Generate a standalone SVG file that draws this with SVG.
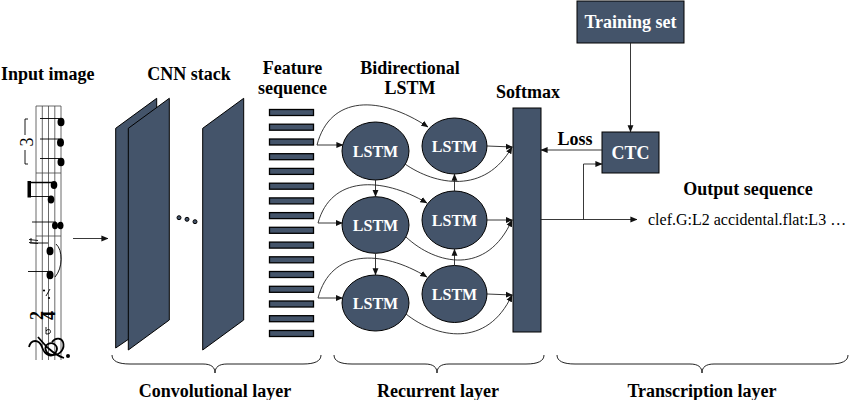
<svg xmlns="http://www.w3.org/2000/svg" width="850" height="400" viewBox="0 0 850 400">
<style>
.t{font-family:"Liberation Serif","Times New Roman",serif;font-weight:bold;font-size:18px;fill:#000}
.s16{font-size:16px}
.w{fill:#fff}
.reg{font-weight:normal}
.node{fill:#44546A;stroke:#000;stroke-width:1}
.bar{fill:#44546A;stroke:#000;stroke-width:1.3}
.conn{fill:none;stroke:#222;stroke-width:0.9}
.brace{fill:none;stroke:#222;stroke-width:1}
.ink{stroke:#000;fill:none}
</style>
<defs>
<marker id="ah" viewBox="0 0 10 10" refX="9.5" refY="5" markerWidth="7" markerHeight="7" markerUnits="userSpaceOnUse" orient="auto">
<path d="M0,0.8 L10,5 L0,9.2 z" fill="#111"/>
</marker>
</defs>
<rect width="850" height="400" fill="#fff"/>

<g id="input-image">
<text class="t" x="1" y="80">Input image</text>
<g stroke="#444" stroke-width="0.8">
<line x1="36" y1="106" x2="36" y2="360"/>
<line x1="42.3" y1="106" x2="42.3" y2="360"/>
<line x1="48.5" y1="106" x2="48.5" y2="360"/>
<line x1="54.8" y1="106" x2="54.8" y2="360"/>
<line x1="61" y1="106" x2="61" y2="360"/>
<line x1="36" y1="106" x2="61" y2="106"/>
<line x1="36" y1="173" x2="61" y2="173"/>
<line x1="36" y1="236" x2="61" y2="236"/>
</g>
<g class="ink" stroke-width="0.9">
<line x1="40" y1="118.5" x2="59" y2="118.5"/>
<line x1="40" y1="139" x2="59" y2="139"/>
<line x1="40" y1="158.5" x2="59" y2="158.5"/>
<path d="M28,119 L25,119 L25,135 M25,150 L25,164 L28,164"/>
<line x1="29" y1="182.5" x2="52" y2="182.5" stroke-width="1.5"/>
<line x1="29" y1="196.5" x2="49" y2="196.5"/>
<line x1="32" y1="222" x2="56" y2="222"/>
<path d="M29,239.5 L38,240.5 M29,242.5 L38,243.5 M31,238 L31,244"/>
<line x1="32" y1="243" x2="48" y2="243"/>
<line x1="28" y1="271.5" x2="48" y2="271.5"/>
<path d="M56,244 C63,250 63,268 55,277"/>
<line x1="46" y1="296" x2="50" y2="289"/>
<path d="M46,327 L46,334 M46,331 C48,328 52,330 50,333 C49,334 47,334 46,334"/>
<path d="M29,347 C31,339 39,339 42,347 C45,356 52,358 56,352 C59,347 54,341 48,344 C43,347 46,355 53,355 C61,355 65,348 63,342 C61,337 55,338 52,342 M38,337 C44,344 52,354 64,358" stroke-width="1.8"/>
</g>
<g fill="#000">
<ellipse cx="61" cy="122" rx="3.5" ry="4.3"/>
<ellipse cx="60.5" cy="142.5" rx="3.5" ry="4.3"/>
<ellipse cx="61" cy="162" rx="3.5" ry="4.3"/>
<rect x="27.5" y="181" width="3.5" height="16.5"/>
<ellipse cx="54" cy="185" rx="3.3" ry="4"/>
<ellipse cx="51" cy="199.5" rx="3.3" ry="4"/>
<ellipse cx="55" cy="225.5" rx="3" ry="3.8"/>
<ellipse cx="60.5" cy="225.5" rx="3" ry="3.8"/>
<ellipse cx="50" cy="251" rx="3.5" ry="4.3"/>
<ellipse cx="50" cy="275" rx="3.5" ry="4.3"/>
<circle cx="44" cy="290.5" r="1.1"/>
<circle cx="49" cy="298" r="1.1"/>
<circle cx="68" cy="356" r="2"/>
</g>
<text class="t reg" font-size="11" transform="translate(33,142) rotate(-90)" text-anchor="middle">3</text>
<text class="t" font-size="15" transform="translate(43,315.5) rotate(-90)" text-anchor="middle">2</text>
<text class="t" font-size="15" transform="translate(55,315.5) rotate(-90)" text-anchor="middle">4</text>
</g>

<g id="cnn-stack">
<text class="t" x="189" y="80" text-anchor="middle">CNN stack</text>
<polygon class="node" points="115.7,128.3 156.7,98.3 156.7,320 115.7,348"/>
<polygon class="node" points="128.3,128.3 169.3,98.3 169.3,320 128.3,350"/>
<polygon class="node" points="202.7,128.3 243.7,98.3 243.7,320 202.7,350"/>
<g class="node">
<circle cx="179" cy="217.7" r="2"/>
<circle cx="187" cy="219.3" r="2"/>
<circle cx="195" cy="221.7" r="2"/>
</g>
</g>

<g id="feature-sequence">
<text class="t" x="292.5" y="74" text-anchor="middle">Feature</text>
<text class="t" x="292.5" y="94" text-anchor="middle">sequence</text>
<rect class="bar" x="269.5" y="109.5" width="44" height="6"/>
<rect class="bar" x="269.5" y="124.2" width="44" height="6"/>
<rect class="bar" x="269.5" y="139" width="44" height="6"/>
<rect class="bar" x="269.5" y="153.7" width="44" height="6"/>
<rect class="bar" x="269.5" y="168.4" width="44" height="6"/>
<rect class="bar" x="269.5" y="183.2" width="44" height="6"/>
<rect class="bar" x="269.5" y="197.9" width="44" height="6"/>
<rect class="bar" x="269.5" y="212.6" width="44" height="6"/>
<rect class="bar" x="269.5" y="227.3" width="44" height="6"/>
<rect class="bar" x="269.5" y="242.1" width="44" height="6"/>
<rect class="bar" x="269.5" y="256.8" width="44" height="6"/>
<rect class="bar" x="269.5" y="271.5" width="44" height="6"/>
<rect class="bar" x="269.5" y="286.3" width="44" height="6"/>
<rect class="bar" x="269.5" y="301" width="44" height="6"/>
<rect class="bar" x="269.5" y="315.7" width="44" height="6"/>
<rect class="bar" x="269.5" y="330.5" width="44" height="6"/>
</g>

<g id="bilstm-title">
<text class="t" x="410" y="74" text-anchor="middle">Bidirectional</text>
<text class="t" x="410" y="94" text-anchor="middle">LSTM</text>
</g>

<g id="lstm-f1"><ellipse class="node" cx="375.5" cy="151" rx="33.5" ry="29"/><text class="t s16 w" x="375.5" y="156.5" text-anchor="middle">LSTM</text></g>
<g id="lstm-f2"><ellipse class="node" cx="375.5" cy="225" rx="33.5" ry="28.3"/><text class="t s16 w" x="375.5" y="230.5" text-anchor="middle">LSTM</text></g>
<g id="lstm-f3"><ellipse class="node" cx="375.5" cy="303" rx="33.5" ry="28"/><text class="t s16 w" x="375.5" y="308.5" text-anchor="middle">LSTM</text></g>
<g id="lstm-b1"><ellipse class="node" cx="454.5" cy="146" rx="32.5" ry="28"/><text class="t s16 w" x="454.5" y="151.5" text-anchor="middle">LSTM</text></g>
<g id="lstm-b2"><ellipse class="node" cx="454.5" cy="220" rx="32.5" ry="29"/><text class="t s16 w" x="454.5" y="225.5" text-anchor="middle">LSTM</text></g>
<g id="lstm-b3"><ellipse class="node" cx="454.5" cy="294" rx="32.5" ry="28.5"/><text class="t s16 w" x="454.5" y="299.5" text-anchor="middle">LSTM</text></g>

<g id="softmax">
<text class="t" x="528" y="98" text-anchor="middle">Softmax</text>
<rect class="node" x="513" y="108" width="28" height="224"/>
</g>

<g id="training-set">
<rect class="node" x="577" y="1" width="107" height="42"/>
<text class="t w" x="630.5" y="28" text-anchor="middle">Training set</text>
</g>

<g id="ctc">
<rect class="node" x="602" y="132" width="57" height="41"/>
<text class="t w" x="630.5" y="159" text-anchor="middle">CTC</text>
</g>

<g id="loss-label"><text class="t" x="575" y="145" text-anchor="middle">Loss</text></g>

<g id="output-sequence">
<text class="t" x="748" y="195" text-anchor="middle">Output sequence</text>
<text class="t reg s16" x="648" y="224.5">clef.G:L2 accidental.flat:L3 …</text>
</g>

<g id="connectors">
<line class="conn" x1="73" y1="238.5" x2="108" y2="238.5" marker-end="url(#ah)"/>
<path class="conn" d="M317,145 L343,145" marker-end="url(#ah)"/>
<path class="conn" d="M318,223 L342.5,223" marker-end="url(#ah)"/>
<path class="conn" d="M318,298 L342.5,298" marker-end="url(#ah)"/>
<path class="conn" d="M317,145 C330,95 380,95 428,127" marker-end="url(#ah)"/>
<path class="conn" d="M318,223 C331,176 381,176 427,203" marker-end="url(#ah)"/>
<path class="conn" d="M318,298 C331,249 381,249 427,277" marker-end="url(#ah)"/>
<path class="conn" d="M375.5,180 L375.5,196.7" marker-end="url(#ah)"/>
<path class="conn" d="M375.5,253.3 L375.5,275" marker-end="url(#ah)"/>
<path class="conn" d="M454.5,191 L454.5,174" marker-end="url(#ah)"/>
<path class="conn" d="M454.5,265.5 L454.5,249" marker-end="url(#ah)"/>
<path class="conn" d="M487,146 L512.5,147" marker-end="url(#ah)"/>
<path class="conn" d="M487,220 L512.5,220" marker-end="url(#ah)"/>
<path class="conn" d="M487,294 L512.5,295" marker-end="url(#ah)"/>
<path class="conn" d="M405,164 C435,185 485,195 512,147" marker-end="url(#ah)"/>
<path class="conn" d="M406,237 C436,265 487,276 512,220" marker-end="url(#ah)"/>
<path class="conn" d="M406,314 C436,338 487,349 512,295" marker-end="url(#ah)"/>
<path class="conn" d="M630.5,43 L630.5,132" marker-end="url(#ah)"/>
<path class="conn" d="M602,150 L541,150" marker-end="url(#ah)"/>
<path class="conn" d="M541,219.5 L637,219.5" marker-end="url(#ah)"/>
<path class="conn" d="M583.5,219.5 L583.5,164 L602,164" marker-end="url(#ah)"/>
</g>

<g id="braces">
<path class="brace" d="M112,355 C112,361 118,364 130,364 L203,364 C211,364 215,367 215,373 C215,367 219,364 227,364 L303,364 C315,364 321,361 321,355"/>
<path class="brace" d="M334,355 C334,361 340,364 352,364 L425,364 C433,364 437,367 437,373 C437,367 441,364 449,364 L526,364 C538,364 544,361 544,355"/>
<path class="brace" d="M557,355 C557,361 563,364 575,364 L690,364 C698,364 702,367 702,373 C702,367 706,364 714,364 L830,364 C842,364 848,361 848,355"/>
<text class="t" x="215" y="397" text-anchor="middle">Convolutional layer</text>
<text class="t" x="438" y="397" text-anchor="middle">Recurrent layer</text>
<text class="t" x="702" y="397" text-anchor="middle">Transcription layer</text>
</g>
</svg>
